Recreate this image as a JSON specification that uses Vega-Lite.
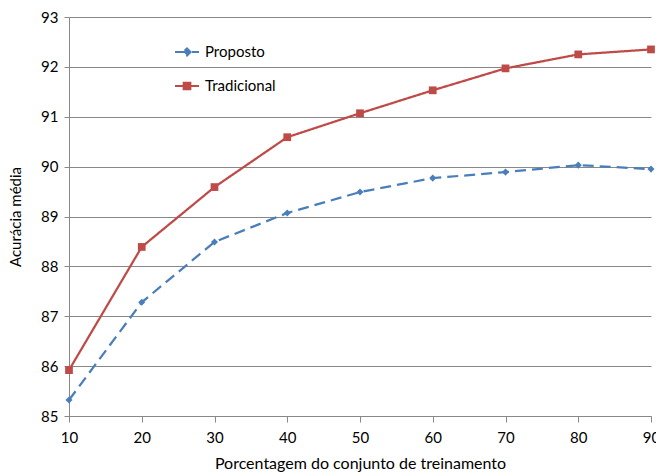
{
  "$schema": "https://vega.github.io/schema/vega-lite/v6.json",
  "width": 582,
  "height": 399,
  "autosize": "none",
  "padding": {"left": 69, "top": 17, "right": 5, "bottom": 58},
  "background": "white",
  "config": {
    "font": "Lato",
    "view": {"stroke": null},
    "axis": {"labelFont": "Lato", "titleFont": "Lato", "labelColor": "#000", "titleColor": "#000", "titleFontWeight": "normal"}
  },
  "data": {
    "values": [
      {"pct": 10, "serie": "Proposto", "acc": 85.32},
      {"pct": 20, "serie": "Proposto", "acc": 87.28},
      {"pct": 30, "serie": "Proposto", "acc": 88.49},
      {"pct": 40, "serie": "Proposto", "acc": 89.07},
      {"pct": 50, "serie": "Proposto", "acc": 89.49},
      {"pct": 60, "serie": "Proposto", "acc": 89.77},
      {"pct": 70, "serie": "Proposto", "acc": 89.89},
      {"pct": 80, "serie": "Proposto", "acc": 90.03},
      {"pct": 90, "serie": "Proposto", "acc": 89.95},
      {"pct": 10, "serie": "Tradicional", "acc": 85.92},
      {"pct": 20, "serie": "Tradicional", "acc": 88.39},
      {"pct": 30, "serie": "Tradicional", "acc": 89.59},
      {"pct": 40, "serie": "Tradicional", "acc": 90.59},
      {"pct": 50, "serie": "Tradicional", "acc": 91.07},
      {"pct": 60, "serie": "Tradicional", "acc": 91.53},
      {"pct": 70, "serie": "Tradicional", "acc": 91.97},
      {"pct": 80, "serie": "Tradicional", "acc": 92.25},
      {"pct": 90, "serie": "Tradicional", "acc": 92.35}
    ]
  },
  "encoding": {
    "x": {
      "field": "pct", "type": "quantitative",
      "scale": {"domain": [10, 90], "nice": false, "zero": false},
      "axis": {
        "values": [10, 20, 30, 40, 50, 60, 70, 80, 90],
        "title": "Porcentagem do conjunto de treinamento",
        "titleFontSize": 16, "labelFontSize": 15,
        "grid": false, "domainColor": "#888", "tickColor": "#888", "tickSize": 6,
        "labelPadding": 8, "titlePadding": 10, "labelFlush": false, "labelOverlap": false
      }
    },
    "y": {
      "field": "acc", "type": "quantitative",
      "scale": {"domain": [85, 93], "nice": false, "zero": false},
      "axis": {
        "values": [85, 86, 87, 88, 89, 90, 91, 92, 93],
        "title": "Acurácia média",
        "titleFontSize": 15, "labelFontSize": 15,
        "grid": true, "gridColor": "#888", "gridOpacity": 1,
        "domainColor": "#888", "tickColor": "#888", "tickSize": 5,
        "labelPadding": 6, "titlePadding": 17
      }
    },
    "color": {
      "field": "serie", "type": "nominal",
      "scale": {"domain": ["Proposto", "Tradicional"], "range": ["#4A7EBB", "#BE4B48"]},
      "legend": {
        "title": null,
        "orient": "none",
        "legendX": 105,
        "legendY": 22,
        "labelFontSize": 15,
        "labelColor": "#000",
        "labelFont": "Lato",
        "rowPadding": 13,
        "labelOffset": 5,
        "symbolSize": 576,
        "symbolOpacity": 1,
        "symbolStrokeWidth": 2,
        "encode": {
          "symbols": {
            "update": {
              "shape": {"signal": "datum.value === 'Proposto' ? 'M-1,0H1M0,-0.3L0.3,0L0,0.3L-0.3,0Z' : 'M-1,0H1M-0.28,-0.28H0.28V0.28H-0.28Z'"},
              "size": {"value": 576},
              "fill": {"signal": "datum.value === 'Proposto' ? '#4A7EBB' : '#BE4B48'"},
              "stroke": {"signal": "datum.value === 'Proposto' ? '#4A7EBB' : '#BE4B48'"},
              "strokeWidth": {"value": 2},
              "opacity": {"value": 1},
              "fillOpacity": {"value": 1},
              "strokeOpacity": {"value": 1},
              "strokeDash": {"value": []}
            }
          }
        }
      }
    }
  },
  "layer": [
    {
      "mark": {"type": "line", "strokeWidth": 2.25},
      "encoding": {
        "strokeDash": {
          "field": "serie", "type": "nominal",
          "scale": {"domain": ["Proposto", "Tradicional"], "range": [[11, 6], [1, 0]]},
          "legend": null
        }
      }
    },
    {
      "transform": [{"filter": "datum.serie === 'Proposto'"}],
      "mark": {"type": "point", "filled": true, "opacity": 1, "shape": "diamond", "size": 50}
    },
    {
      "transform": [{"filter": "datum.serie === 'Tradicional'"}],
      "mark": {"type": "point", "filled": true, "opacity": 1, "shape": "square", "size": 60}
    }
  ]
}
